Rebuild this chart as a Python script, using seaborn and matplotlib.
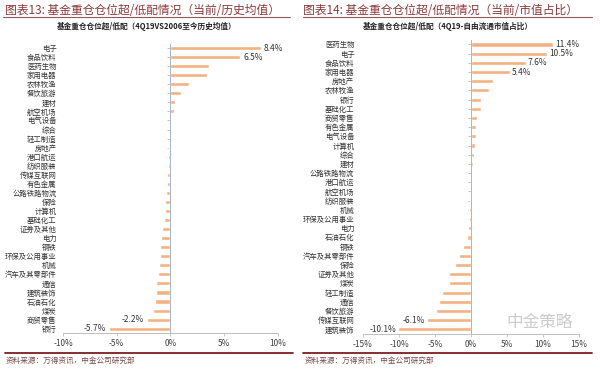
import matplotlib
matplotlib.use('Agg')
import pandas as pd
import matplotlib.pyplot as plt
import seaborn as sns
from matplotlib.lines import Line2D
from matplotlib.ticker import FuncFormatter

# 图表13: 4Q19 vs 2006至今历史均值 (%)
hy_13 = ['电子', '食品饮料', '医药生物', '家用电器', '农林牧渔', '餐饮旅游', '建材', '航空机场',
         '电气设备', '综合', '轻工制造', '房地产', '港口航运', '纺织服装', '传媒互联网', '有色金属',
         '公路铁路物流', '保险', '计算机', '基础化工', '证券及其他', '电力', '钢铁', '环保及公用事业',
         '机械', '汽车及其零部件', '通信', '建筑装饰', '石油石化', '煤炭', '商贸零售', '银行']
zhi_13 = [8.4, 6.5, 3.6, 3.4, 1.7, 1.0, 0.45, 0.3,
          -0.02, -0.05, -0.08, -0.12, -0.2, -0.27, -0.28, -0.33,
          -0.43, -0.5, -0.52, -0.6, -0.75, -0.83, -1.0, -1.0,
          -1.05, -1.15, -1.3, -1.35, -1.45, -1.6, -2.2, -5.7]
biaoqian_13 = ['电子', '食品饮料', '商贸零售', '银行']

# 图表14: 4Q19 - 自由流通市值占比 (%)
hy_14 = ['医药生物', '电子', '食品饮料', '家用电器', '房地产', '农林牧渔', '银行', '基础化工',
         '商贸零售', '有色金属', '电气设备', '计算机', '综合', '建材', '公路铁路物流', '港口航运',
         '航空机场', '纺织服装', '机械', '环保及公用事业', '电力', '石油石化', '钢铁', '汽车及其零部件',
         '保险', '证券及其他', '煤炭', '轻工制造', '通信', '餐饮旅游', '传媒互联网', '建筑装饰']
zhi_14 = [11.4, 10.5, 7.6, 5.4, 3.1, 2.5, 1.4, 1.4,
          0.8, 0.75, 0.7, 0.5, 0.45, 0.25, 0.1, 0.05,
          0.02, -0.2, -0.25, -0.3, -0.45, -0.55, -1.15, -1.7,
          -2.2, -3.1, -3.1, -4.0, -4.5, -4.9, -6.1, -10.1]
biaoqian_14 = ['医药生物', '电子', '食品饮料', '家用电器', '传媒互联网', '建筑装饰']

BAR = '#F4B183'
RED = '#7A1F1F'


def hua_tu(fig, rect, hy, zhi, biaoqian, xlim, xticks, pad):
    df = pd.DataFrame({'行业': hy, '值': zhi})
    ax = fig.add_axes(rect)
    sns.barplot(x='值', y='行业', data=df, orient='h', color=BAR, width=0.45,
                saturation=1, ax=ax)
    ax.set_xlim(*xlim)
    ax.set_xticks(xticks)
    ax.xaxis.set_major_formatter(FuncFormatter(lambda v, p: f'{v:.0f}%'))
    ax.set_xlabel('')
    ax.set_ylabel('')
    for s in ['top', 'right']:
        ax.spines[s].set_visible(False)
    ax.spines['left'].set_position(('data', 0))
    ax.spines['left'].set_color('#A9B6C6')
    ax.spines['left'].set_linewidth(0.7)
    ax.spines['bottom'].set_color('#BFBFBF')
    ax.spines['bottom'].set_linewidth(0.7)
    ax.tick_params(axis='y', length=2, width=0.6, color='#A9B6C6', pad=pad,
                   labelsize=5.3, labelcolor='#333333', left=True)
    ax.tick_params(axis='x', length=2, width=0.6, color='#BFBFBF', pad=2,
                   labelsize=6, labelcolor='#404040', bottom=True)
    # 数据标签
    for bar, h, v in zip(ax.patches, hy, zhi):
        if h in biaoqian:
            y = bar.get_y() + bar.get_height() / 2
            if v >= 0:
                ax.text(v + 0.3, y, f'{v:.1f}%', va='center', ha='left',
                        fontsize=6, color='#333333')
            else:
                ax.text(v - 0.3, y, f'{v:.1f}%', va='center', ha='right',
                        fontsize=6, color='#333333')
    return ax


fig = plt.figure(figsize=(6, 3.69), dpi=100)
sns.set_theme(style='white')
plt.rcParams['font.family'] = ['Noto Sans CJK SC', 'DejaVu Sans']
plt.rcParams['axes.unicode_minus'] = False

hua_tu(fig, [0.105, 0.097, 0.358, 0.785], hy_13, zhi_13, biaoqian_13,
       (-10, 10), [-10, -5, 0, 5, 10], 80)
hua_tu(fig, [0.605, 0.095, 0.36, 0.797], hy_14, zhi_14, biaoqian_14,
       (-15, 15), [-15, -10, -5, 0, 5, 10, 15], 82)

# 标题与副标题
fig.text(0.008, 0.972, '图表13: 基金重仓仓位超/低配情况（当前/历史均值）', fontsize=8.5,
         color='#8B3A3A', style='italic', va='center', ha='left')
fig.text(0.505, 0.972, '图表14: 基金重仓仓位超/低配情况（当前/市值占比）', fontsize=8.5,
         color='#8B3A3A', style='italic', va='center', ha='left')
fig.add_artist(Line2D([0.005, 0.483], [0.955, 0.955], color='#8B5A5A', lw=0.8))
fig.add_artist(Line2D([0.505, 0.987], [0.955, 0.955], color='#8B5A5A', lw=0.8))
fig.text(0.245, 0.928, '基金重仓仓位超/低配（4Q19VS2006至今历史均值）', fontsize=5.5,
         weight='bold', color='#222222', va='center', ha='center')
fig.text(0.747, 0.928, '基金重仓仓位超/低配（4Q19-自由流通市值占比）', fontsize=5.5,
         weight='bold', color='#222222', va='center', ha='center')

# 脚注
fig.add_artist(Line2D([0.008, 0.488], [0.044, 0.044], color=RED, lw=1.3))
fig.add_artist(Line2D([0.505, 0.987], [0.044, 0.044], color=RED, lw=1.3))
fig.text(0.01, 0.022, '资料来源：万得资讯，中金公司研究部', fontsize=5.5, color='#7A4A4A',
         style='italic', va='center', ha='left')
fig.text(0.507, 0.022, '资料来源：万得资讯，中金公司研究部', fontsize=5.5, color='#7A4A4A',
         style='italic', va='center', ha='left')

# 水印
fig.text(0.9, 0.125, '中金策略', fontsize=12, color='#9A9A9A', alpha=0.5,
         va='center', ha='center')

fig.savefig('out.png', dpi=100)
